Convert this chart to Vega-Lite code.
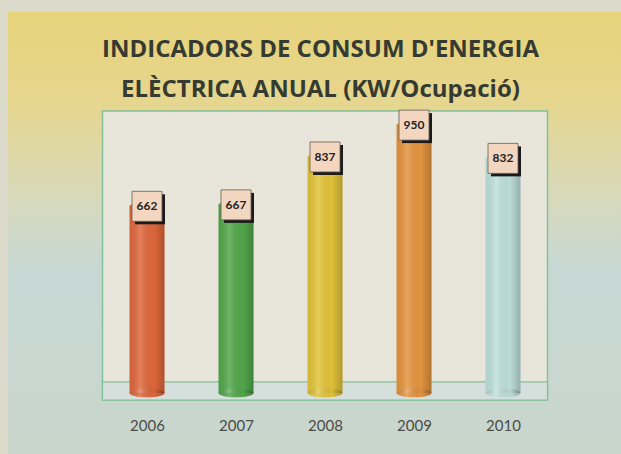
{
  "$schema": "https://vega.github.io/schema/vega-lite/v6.json",
  "width": 613,
  "height": 442,
  "autosize": {"type": "none"},
  "padding": {"left": 8, "top": 12, "right": 0, "bottom": 0},
  "background": "#dcdacb",
  "config": {
    "view": {
      "stroke": null,
      "fill": {
        "gradient": "linear",
        "x1": 0, "y1": 0, "x2": 0, "y2": 1,
        "stops": [
          {"offset": 0, "color": "#e7d37a"},
          {"offset": 0.2, "color": "#e6d68e"},
          {"offset": 0.42, "color": "#d8d9bb"},
          {"offset": 0.58, "color": "#c7d8d4"},
          {"offset": 1, "color": "#c9d6cc"}
        ]
      }
    }
  },
  "title": {
    "text": ["INDICADORS DE CONSUM D'ENERGIA", "ELÈCTRICA ANUAL (KW/Ocupació)"],
    "font": "Open Sans",
    "fontSize": 24,
    "fontWeight": "bold",
    "color": "#363b32",
    "lineHeight": 40,
    "anchor": "middle",
    "frame": "group",
    "baseline": "bottom",
    "offset": -114,
    "dx": 6
  },
  "data": {
    "values": [
      {"year": 2006, "value": 662},
      {"year": 2007, "value": 667},
      {"year": 2008, "value": 837},
      {"year": 2009, "value": 950},
      {"year": 2010, "value": 832}
    ]
  },
  "layer": [
    {
      "data": {"values": [{}]},
      "mark": {"type": "rect", "fill": "#e8e5da", "stroke": "#82c29a", "strokeWidth": 1.5},
      "encoding": {
        "x": {
          "datum": 2005.5,
          "type": "quantitative",
          "scale": {"domain": [2005.5, 2010.5], "range": [94.5, 539.5], "nice": false, "zero": false, "padding": 0},
          "axis": {
            "values": [2006, 2007, 2008, 2009, 2010],
            "format": "d",
            "ticks": false,
            "domain": false,
            "grid": false,
            "labelFont": "Lato",
            "labelFontSize": 15,
            "labelColor": "#4b4b47",
            "labelPadding": 8,
            "offset": -44,
            "title": null
          }
        },
        "x2": {"datum": 2010.5},
        "y": {
          "datum": -25,
          "type": "quantitative",
          "scale": {"domain": [-25, 1000], "range": [388, 99], "nice": false, "zero": false, "padding": 0},
          "axis": null
        },
        "y2": {"datum": 1000}
      }
    },
    {
      "data": {"values": [{}]},
      "mark": {"type": "rect", "fill": "#d5dfdb", "stroke": "#82c29a", "strokeWidth": 1.2},
      "encoding": {
        "x": {"datum": 2005.5, "type": "quantitative"},
        "x2": {"datum": 2010.5},
        "y": {"datum": -25, "type": "quantitative"},
        "y2": {"datum": 39}
      }
    },
    {
      "mark": {"type": "bar", "width": 35},
      "encoding": {
        "x": {"field": "year", "type": "quantitative"},
        "y": {"field": "value", "type": "quantitative"},
        "y2": {"datum": 0},
        "color": {
          "field": "year",
          "type": "nominal",
          "scale": {"domain": [2006, 2007, 2008, 2009, 2010], "range": ["#e0683c", "#53a84c", "#e3c43a", "#e59540", "#bfe0dc"]},
          "legend": null
        }
      }
    },
    {
      "mark": {"type": "point", "shape": "M -1 0 A 1 0.25 0 1 0 1 0 A 1 0.25 0 1 0 -1 0 Z", "size": 1225, "filled": true, "opacity": 1, "strokeWidth": 0},
      "encoding": {
        "x": {"field": "year", "type": "quantitative"},
        "y": {"datum": 0, "type": "quantitative"},
        "color": {"field": "year", "type": "nominal", "legend": null}
      }
    },
    {
      "mark": {"type": "point", "shape": "M -1 0 A 1 0.25 0 1 0 1 0 A 1 0.25 0 1 0 -1 0 Z", "size": 1225, "filled": true, "opacity": 1, "strokeWidth": 0},
      "encoding": {
        "x": {"field": "year", "type": "quantitative"},
        "y": {"field": "value", "type": "quantitative"},
        "color": {"field": "year", "type": "nominal", "legend": null}
      }
    },
    {
      "mark": {
        "type": "bar",
        "width": 35,
        "fill": {
          "gradient": "linear", "x1": 0, "y1": 0, "x2": 1, "y2": 0,
          "stops": [
            {"offset": 0, "color": "rgba(0,0,0,0.06)"},
            {"offset": 0.3, "color": "rgba(255,255,255,0.16)"},
            {"offset": 0.7, "color": "rgba(0,0,0,0.02)"},
            {"offset": 1, "color": "rgba(0,0,0,0.22)"}
          ]
        }
      },
      "encoding": {
        "x": {"field": "year", "type": "quantitative"},
        "y": {"field": "value", "type": "quantitative"},
        "y2": {"datum": 0}
      }
    },
    {
      "mark": {
        "type": "point",
        "shape": "M -1 0 A 1 0.25 0 1 0 1 0 A 1 0.25 0 1 0 -1 0 Z",
        "size": 1225, "filled": true, "opacity": 1, "strokeWidth": 0,
        "fill": {
          "gradient": "linear", "x1": 0, "y1": 0, "x2": 1, "y2": 0,
          "stops": [
            {"offset": 0, "color": "rgba(0,0,0,0.06)"},
            {"offset": 0.3, "color": "rgba(255,255,255,0.16)"},
            {"offset": 0.7, "color": "rgba(0,0,0,0.02)"},
            {"offset": 1, "color": "rgba(0,0,0,0.22)"}
          ]
        }
      },
      "encoding": {
        "x": {"field": "year", "type": "quantitative"},
        "y": {"datum": 0, "type": "quantitative"}
      }
    },
    {
      "mark": {"type": "point", "shape": "square", "size": 900, "filled": true, "opacity": 1, "fill": "#1b1b1b", "strokeWidth": 0, "xOffset": 3, "yOffset": 3},
      "encoding": {
        "x": {"field": "year", "type": "quantitative"},
        "y": {"field": "value", "type": "quantitative"}
      }
    },
    {
      "mark": {"type": "point", "shape": "square", "size": 900, "filled": true, "opacity": 1, "fill": "#f3d6c0", "stroke": "#6b5a50", "strokeWidth": 0.8},
      "encoding": {
        "x": {"field": "year", "type": "quantitative"},
        "y": {"field": "value", "type": "quantitative"}
      }
    },
    {
      "mark": {"type": "text", "font": "Lato", "fontSize": 12, "fontWeight": "bold", "color": "#222222", "baseline": "middle", "align": "center"},
      "encoding": {
        "x": {"field": "year", "type": "quantitative"},
        "y": {"field": "value", "type": "quantitative"},
        "text": {"field": "value", "type": "quantitative", "format": "d"}
      }
    }
  ]
}
